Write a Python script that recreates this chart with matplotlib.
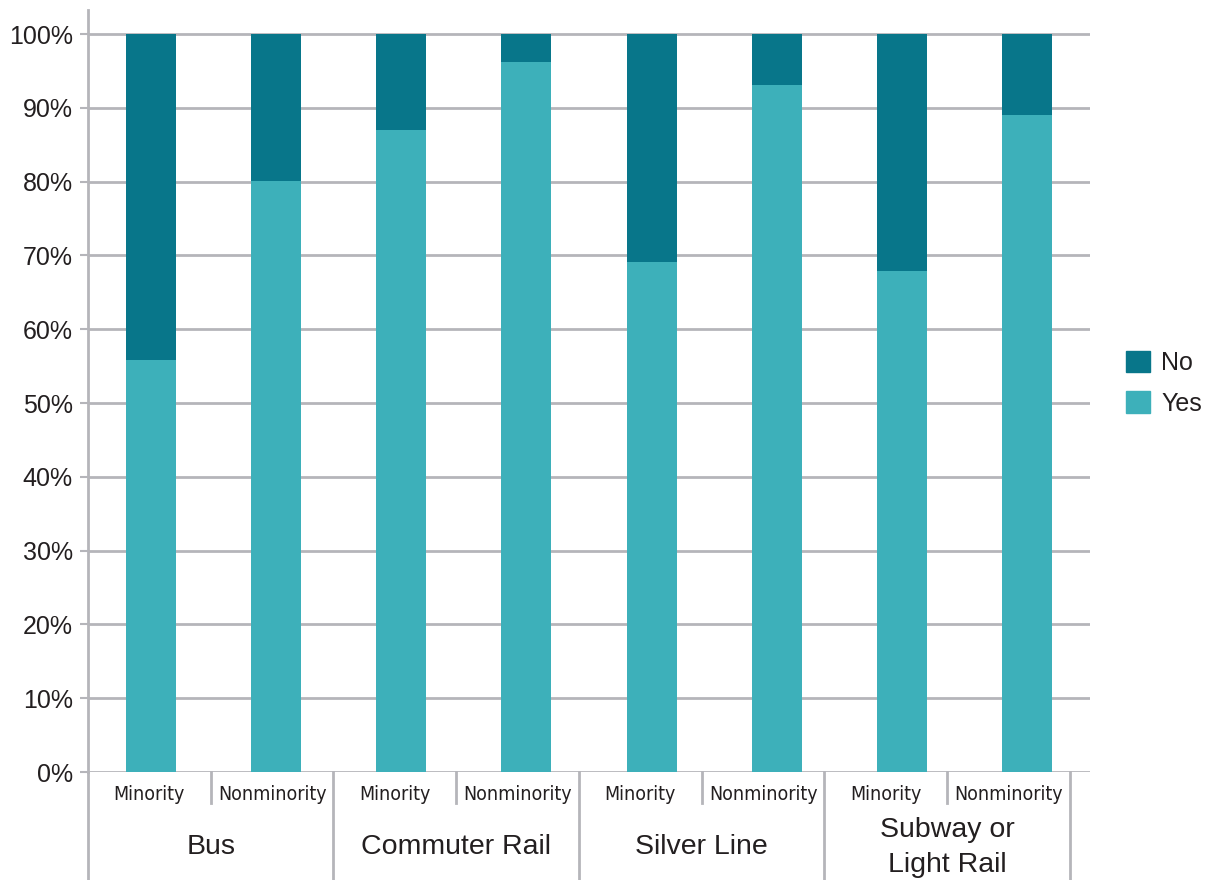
import matplotlib
matplotlib.use("Agg")
import matplotlib.pyplot as plt
from matplotlib.patches import Patch
from matplotlib.ticker import PercentFormatter
from matplotlib import font_manager
import numpy as np

modes = ["Bus", "Commuter Rail", "Silver Line", "Subway or\nLight Rail"]
groups = ["Minority", "Nonminority"]
yes_share = [0.558, 0.801, 0.870, 0.962, 0.691, 0.931, 0.679, 0.890]
no_share = [1 - v for v in yes_share]

c_no = "#08768A"
c_yes = "#3DB0BA"
c_grid = "#B5B5BA"
c_text = "#231F20"

plt.rcParams["font.family"] = ["Liberation Sans", "DejaVu Sans"]

# a narrow face for the small header labels, if one is there
narrow = None
for f in font_manager.fontManager.ttflist:
    if f.name == "Liberation Sans Narrow" and f.style == "normal" and f.weight in (400, "normal"):
        narrow = f.fname
        break
if narrow is None:
    for f in font_manager.fontManager.ttflist:
        if "Condensed" in f.fname and f.name == "DejaVu Sans" and "Bold" not in f.fname and "Oblique" not in f.fname:
            narrow = f.fname
            break

fig = plt.figure(figsize=(12.08, 8.8), dpi=100)
W, H = 1208, 880
ax = fig.add_axes([88 / W, (H - 772) / H, 1002 / W, 762 / H])

x = np.arange(len(yes_share))
ax.bar(x, yes_share, width=0.4, color=c_yes, zorder=3)
ax.bar(x, no_share, width=0.4, bottom=yes_share, color=c_no, zorder=3)

ax.set_xlim(-0.5, len(yes_share) - 0.5)
ax.set_ylim(0, 762 / 738)
ax.set_yticks(np.arange(0, 1.01, 0.1))
ax.yaxis.set_major_formatter(PercentFormatter(1.0, decimals=0))
ax.set_xticks([])
ax.yaxis.grid(True, color=c_grid, linewidth=2, zorder=0)
ax.tick_params(axis="y", length=6, width=1.5, color=c_grid, pad=5,
               labelsize=18, labelcolor=c_text)
for s in ["top", "right", "bottom"]:
    ax.spines[s].set_visible(False)
ax.spines["left"].set_color(c_grid)
ax.spines["left"].set_linewidth(2)

# header table under the axis
cell = 0.245
sub_bottom = -31 / 762
fig_bottom = -108 / 762
for k in range(len(modes) + 1):
    ax.plot([k * cell, k * cell], [0, fig_bottom], transform=ax.transAxes,
            color=c_grid, linewidth=2, clip_on=False)
for k, mode in enumerate(modes):
    left = k * cell
    ax.plot([left + cell / 2] * 2, [0, sub_bottom], transform=ax.transAxes,
            color=c_grid, linewidth=2, clip_on=False)
    for j, g in enumerate(groups):
        kw = dict(fname=narrow) if narrow else dict(family="DejaVu Sans")
        ax.text(left + cell / 4 + j * cell / 2, -22 / 762, g,
                transform=ax.transAxes, ha="center", va="center",
                color=c_text, fontproperties=font_manager.FontProperties(size=14, **kw))
    ax.text(left + cell / 2, -75 / 762, mode, transform=ax.transAxes,
            ha="center", va="center", fontsize=20.5, color=c_text,
            linespacing=1.45)

handles = [Patch(color=c_no, label="No"), Patch(color=c_yes, label="Yes")]
fig.legend(handles=handles, loc="center left", bbox_to_anchor=(1126 / W, 1 - 383 / H),
           frameon=False, fontsize=18, handlelength=0.95, handleheight=0.95,
           handletextpad=0.45, labelspacing=0.65, labelcolor=c_text,
           borderpad=0, borderaxespad=0)

fig.savefig("out.png", dpi=100)
